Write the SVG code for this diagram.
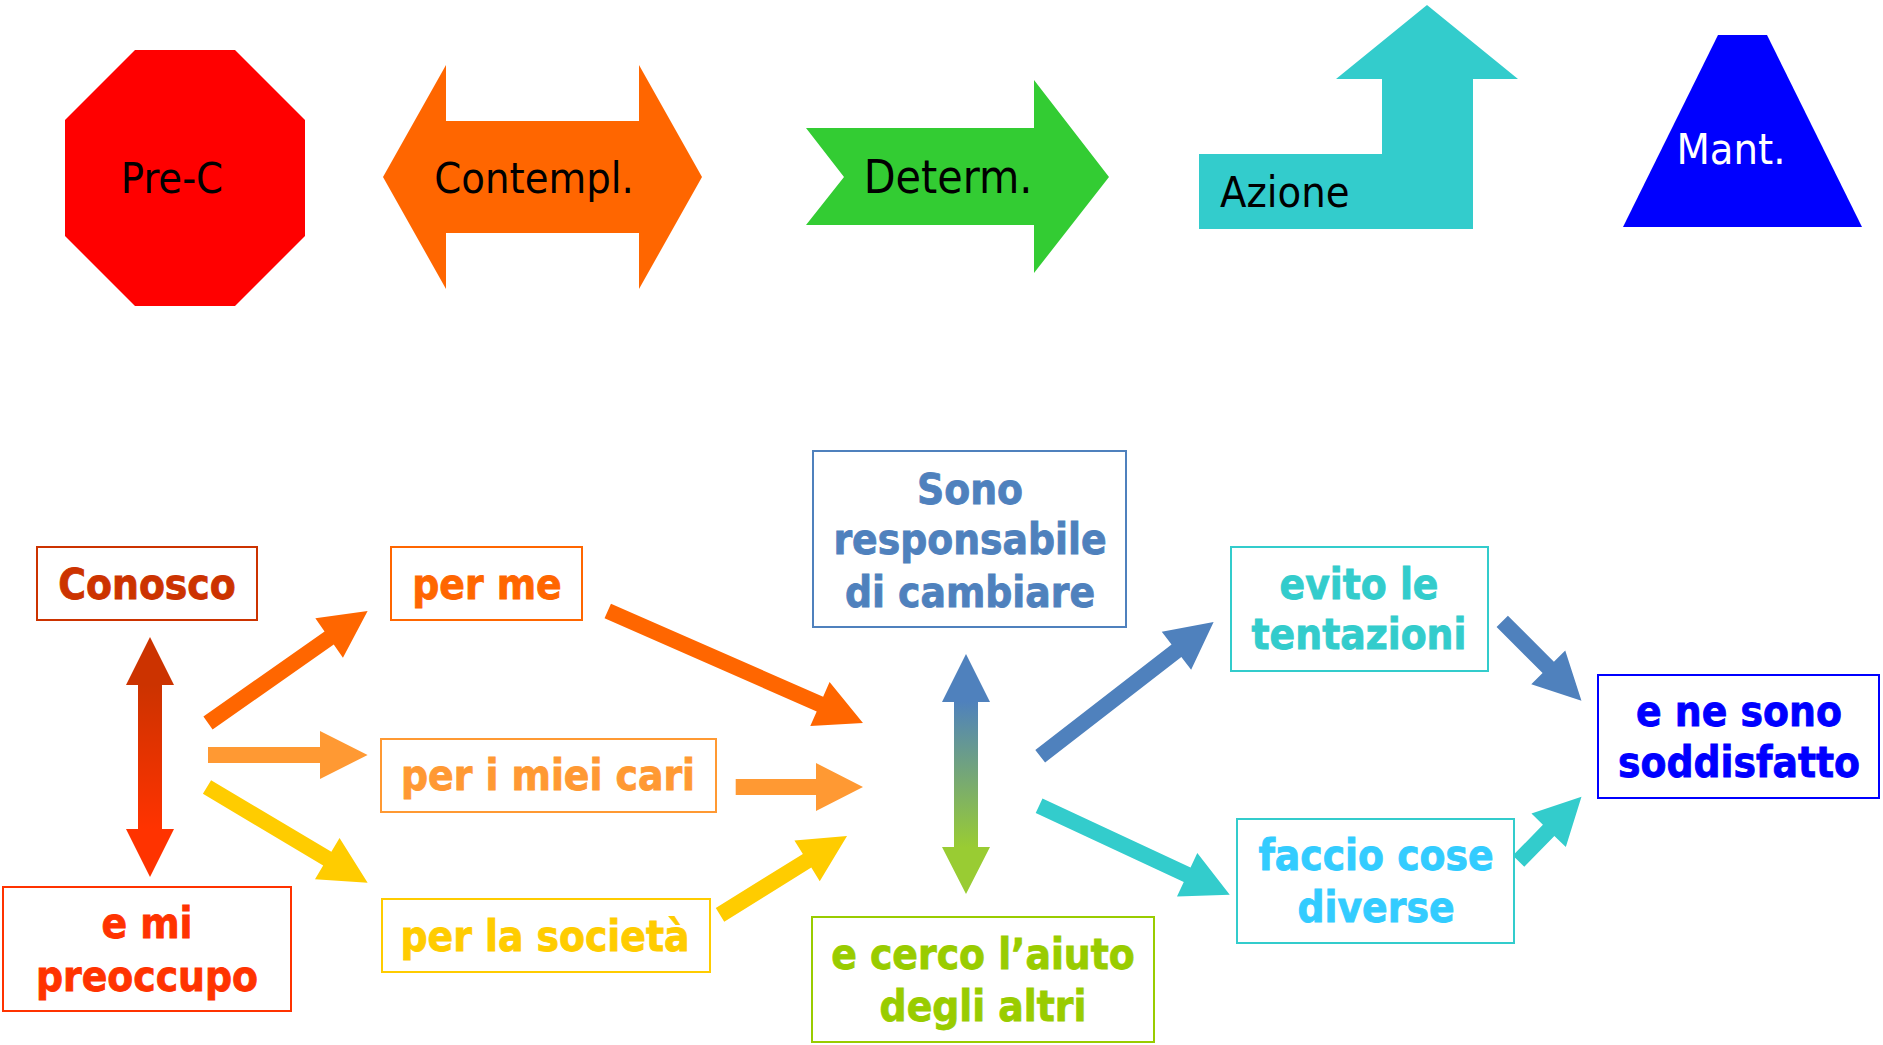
<svg xmlns="http://www.w3.org/2000/svg" width="1883" height="1045" viewBox="0 0 1883 1045">
<defs>
<style>
.top{font-family:'DejaVu Sans Condensed','DejaVu Sans',sans-serif;font-stretch:condensed;font-size:43px;fill:#000}
.lbl{font-family:'DejaVu Sans Condensed','DejaVu Sans',sans-serif;font-stretch:condensed;font-weight:bold;font-size:42px;text-anchor:middle;stroke-width:0.8}
.box{fill:#fff;stroke-width:2}
</style>
<linearGradient id="gL" gradientUnits="userSpaceOnUse" x1="0" y1="685" x2="0" y2="829">
<stop offset="0" stop-color="#CC3300"/><stop offset="1" stop-color="#FF3300"/>
</linearGradient>
<linearGradient id="gC" gradientUnits="userSpaceOnUse" x1="0" y1="701" x2="0" y2="847">
<stop offset="0" stop-color="#4F81BD"/><stop offset="1" stop-color="#99CC33"/>
</linearGradient>
</defs>

<g id="stage-prec">
<polygon points="135,50 235,50 305,120 305,236 235,306 135,306 65,236 65,120" fill="#FF0000"/>
<text class="top" x="172" y="193" text-anchor="middle">Pre-C</text>
</g>
<g id="stage-contempl">
<polygon points="383,177 446,65 446,121 639,121 639,65 702,177 639,289 639,233 446,233 446,289" fill="#FF6600"/>
<text class="top" x="534" y="193" text-anchor="middle">Contempl.</text>
</g>
<g id="stage-determ">
<polygon points="806,128 1034,128 1034,80 1109,177 1034,273 1034,225 806,225 844,177" fill="#33CC33"/>
<text class="top" x="948" y="193" text-anchor="middle" style="font-size:46px">Determ.</text>
</g>
<g id="stage-azione">
<polygon points="1199,154 1382,154 1382,79 1336,79 1427,5 1518,79 1473,79 1473,229 1199,229" fill="#33CCCC"/>
<text class="top" x="1220" y="207">Azione</text>
</g>
<g id="stage-mant">
<polygon points="1718,35 1767,35 1862,227 1623,227" fill="#0000FF"/>
<text class="top" x="1731" y="164" text-anchor="middle" style="fill:#fff">Mant.</text>
</g>

<g id="n-conosco">
<rect class="box" x="37" y="547" width="220" height="73" stroke="#CC3300"/>
<text class="lbl" x="147" y="599" fill="#CC3300" stroke="#CC3300">Conosco</text>
</g>
<g id="n-preoccupo">
<rect class="box" x="3" y="887" width="288" height="124" stroke="#FF3300"/>
<text class="lbl" x="147" y="938" fill="#FF3300" stroke="#FF3300">e mi</text>
<text class="lbl" x="147" y="991" fill="#FF3300" stroke="#FF3300">preoccupo</text>
</g>
<g id="n-perme">
<rect class="box" x="391" y="547" width="191" height="73" stroke="#FF6600"/>
<text class="lbl" x="487" y="599" fill="#FF6600" stroke="#FF6600">per me</text>
</g>
<g id="n-cari">
<rect class="box" x="381" y="739" width="335" height="73" stroke="#FF9933"/>
<text class="lbl" x="548" y="790" fill="#FF9933" stroke="#FF9933">per i miei cari</text>
</g>
<g id="n-societa">
<rect class="box" x="382" y="899" width="328" height="73" stroke="#FFCC00"/>
<text class="lbl" x="545" y="951" fill="#FFCC00" stroke="#FFCC00">per la società</text>
</g>
<g id="n-sono">
<rect class="box" x="813" y="451" width="313" height="176" stroke="#4F81BD"/>
<text class="lbl" x="970" y="504" fill="#4F81BD" stroke="#4F81BD">Sono</text>
<text class="lbl" x="970" y="554" fill="#4F81BD" stroke="#4F81BD">responsabile</text>
<text class="lbl" x="970" y="607" fill="#4F81BD" stroke="#4F81BD">di cambiare</text>
</g>
<g id="n-cerco">
<rect class="box" x="812" y="917" width="342" height="125" stroke="#99CC00"/>
<text class="lbl" x="983" y="969" fill="#99CC00" stroke="#99CC00">e cerco l’aiuto</text>
<text class="lbl" x="983" y="1021" fill="#99CC00" stroke="#99CC00">degli altri</text>
</g>
<g id="n-evito">
<rect class="box" x="1231" y="547" width="257" height="124" stroke="#33CCCC"/>
<text class="lbl" x="1359" y="599" fill="#33CCCC" stroke="#33CCCC">evito le</text>
<text class="lbl" x="1359" y="649" fill="#33CCCC" stroke="#33CCCC">tentazioni</text>
</g>
<g id="n-faccio">
<rect class="box" x="1237" y="819" width="277" height="124" stroke="#33CCCC"/>
<text class="lbl" x="1376" y="870" fill="#33CCFF" stroke="#33CCFF">faccio cose</text>
<text class="lbl" x="1376" y="922" fill="#33CCFF" stroke="#33CCFF">diverse</text>
</g>
<g id="n-soddisfatto">
<rect class="box" x="1598" y="675" width="281" height="123" stroke="#0000FF" stroke-width="2.5"/>
<text class="lbl" x="1739" y="726" fill="#0000FF" stroke="#0000FF">e ne sono</text>
<text class="lbl" x="1739" y="777" fill="#0000FF" stroke="#0000FF">soddisfatto</text>
</g>

<g id="connectors">
<path d="M150,637 L174,685 L162,685 L162,829 L174,829 L150,877 L126,829 L138,829 L138,685 L126,685 Z" fill="url(#gL)"/>
<path d="M966,654 L990,702 L978,702 L978,847 L990,847 L966,894 L942,847 L954,847 L954,702 L942,702 Z" fill="url(#gC)"/>
<g fill="#FF6600">
<path transform="translate(208,723) rotate(-35.06)" d="M0,-8 H148 V-24 L195,0 L148,24 V8 H0 Z"/>
<path transform="translate(607.75,611) rotate(23.69)" d="M0,-8 H231.7 V-24 L278.7,0 L231.7,24 V8 H0 Z"/>
</g>
<g fill="#FF9933">
<path d="M208,747 H320 V731 L367.6,755 L320,779 V763 H208 Z"/>
<path d="M735.7,779 H816 V763 L863,787 L816,811 V795 H735.7 Z"/>
</g>
<g fill="#FFCC00">
<path transform="translate(207,787) rotate(30.79)" d="M0,-8 H140 V-24 L187,0 L140,24 V8 H0 Z"/>
<path transform="translate(720,914.85) rotate(-31.83)" d="M0,-8 H102.5 V-24 L149.5,0 L102.5,24 V8 H0 Z"/>
</g>
<g fill="#4F81BD">
<path transform="translate(1040.2,756.25) rotate(-37.74)" d="M0,-8 H172.3 V-24 L219.3,0 L172.3,24 V8 H0 Z"/>
<path transform="translate(1502.25,621.35) rotate(45.04)" d="M0,-8 H65.1 V-24 L112.1,0 L65.1,24 V8 H0 Z"/>
</g>
<g fill="#33CCCC">
<path transform="translate(1039.1,805.7) rotate(25.03)" d="M0,-8 H163.4 V-24 L210.4,0 L163.4,24 V8 H0 Z"/>
<path transform="translate(1518.55,861.2) rotate(-45.7)" d="M0,-8 H43.1 V-24 L90.1,0 L43.1,24 V8 H0 Z"/>
</g>
</g>
</svg>
